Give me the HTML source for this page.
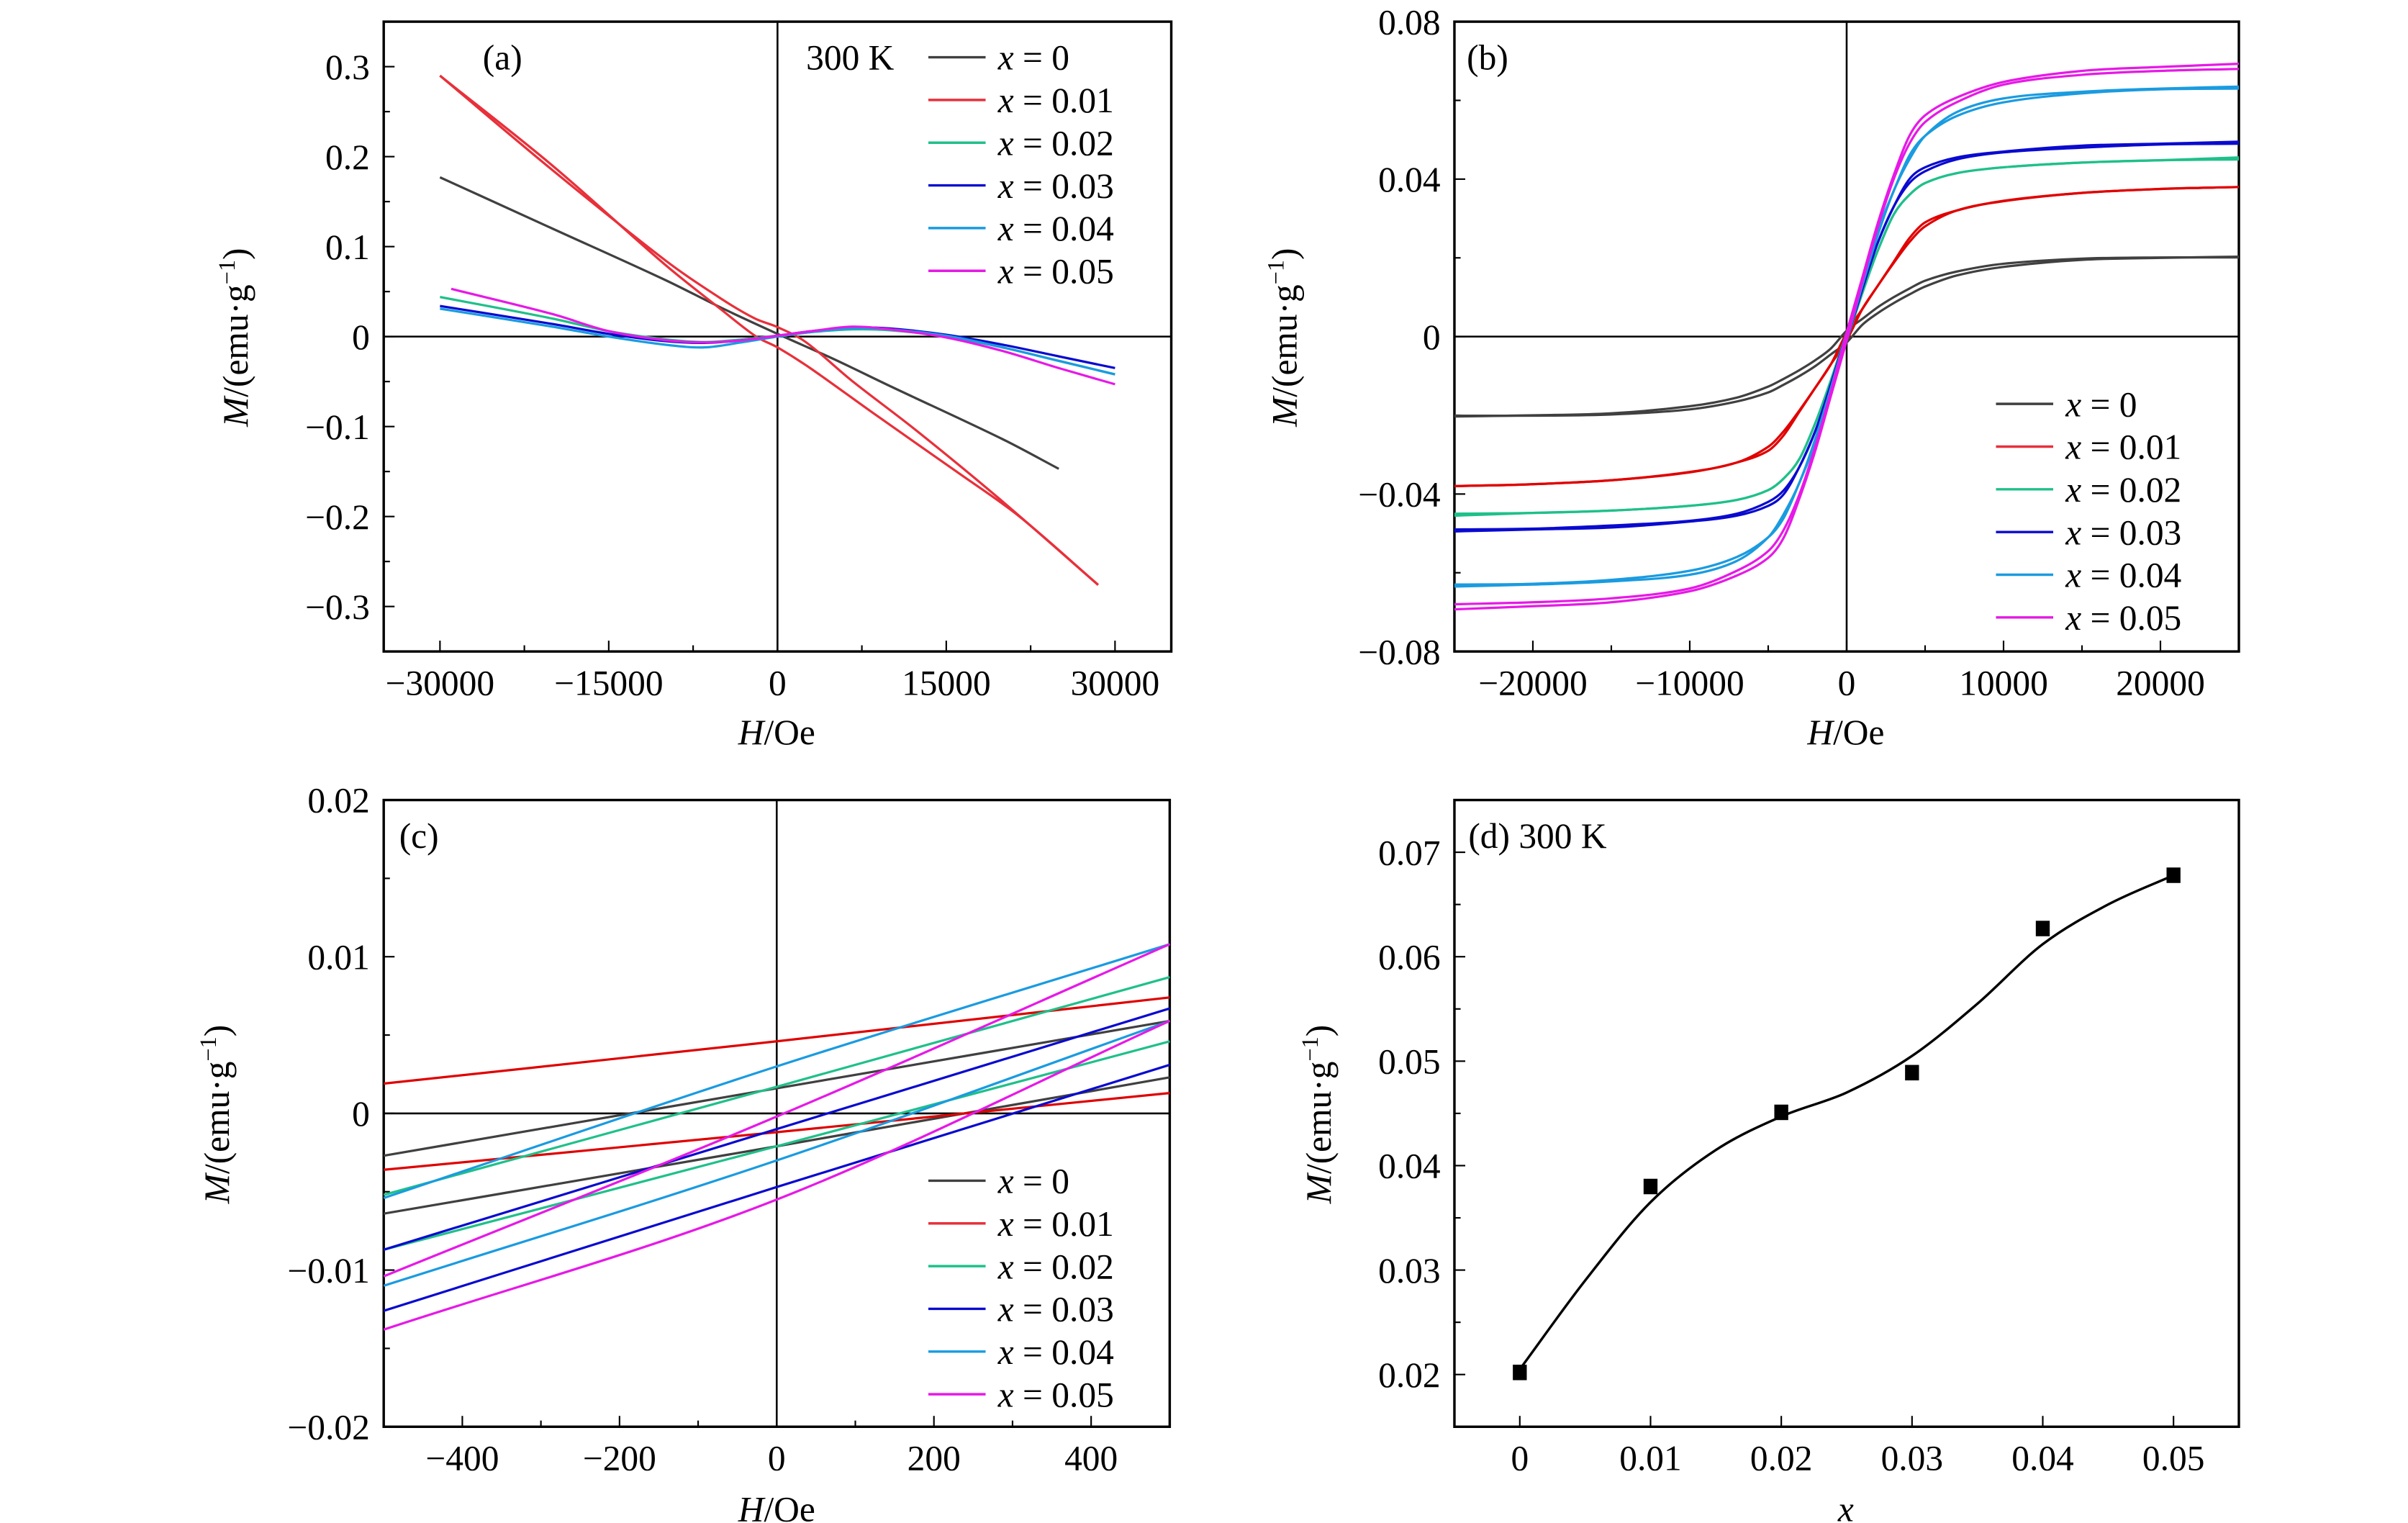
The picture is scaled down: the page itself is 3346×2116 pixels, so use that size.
<!DOCTYPE html>
<html><head><meta charset="utf-8"><style>
html,body{margin:0;padding:0;background:#fff}
svg{display:block}
text{font-family:"Liberation Serif",serif;fill:#000}
</style></head><body>
<svg id="fig" width="3346" height="2116" viewBox="0 0 1556.3 984.2" xmlns="http://www.w3.org/2000/svg">
<rect width="1556.3" height="984.2" fill="#fff"/>
</svg>
<script>
// ---------- Data ----------
const colors = ['#404040','#e8303a','#1fc08a','#0a0ad0','#1a9be0','#e619e6'];
const legendLabels = ['0','0.01','0.02','0.03','0.04','0.05'];

// Panel (a)
const aGrayH = [-30000,-20000,-10000,-5000,0,5000,10000,20000,25000];
const aGrayM = [0.177,0.12,0.063,0.032,0.003,-0.025,-0.055,-0.114,-0.147];
const aRedUpperH = [-30000,-20000,-10000,-5000,-2000,0,2500,6600,12200,19600,28500];
const aRedUpperM = [0.29,0.185,0.085,0.042,0.02,0.0105,-0.006,-0.049,-0.103,-0.179,-0.276];
const aRedLowerH = [-30000,-20000,-10000,-5000,-1900,0,2900,8500,15900,21500,28500];
const aRedLowerM = [0.29,0.19,0.08,0.03,0.0,-0.012,-0.035,-0.085,-0.150,-0.2,-0.276];
const aSmallH = [-30000,-20000,-15000,-10000,-6500,-3000,0,3000,6600,10000,15000,20000,25000,30000];
const aM002 = [0.044,0.020,0.006,-0.003,-0.006,-0.003,0.001,0.005,0.008,0.007,0.000,-0.012,-0.027,-0.042];
const aM003 = [0.034,0.014,0.003,-0.005,-0.007,-0.004,0.001,0.006,0.010,0.009,0.002,-0.009,-0.022,-0.035];
const aM004 = [0.031,0.011,0.000,-0.009,-0.012,-0.006,0.000,0.005,0.009,0.008,0.001,-0.012,-0.027,-0.042];
const aM005H = [-29000,-20000,-15000,-10000,-6400,-3000,0,3000,6600,10000,15000,20000,25000,30000];
const aM005 = [0.053,0.025,0.006,-0.004,-0.0065,-0.004,0.001,0.006,0.011,0.008,-0.001,-0.016,-0.035,-0.053];

// Panel (b): descending branch; ascending branch is its point-symmetric counterpart
const bH = [-25000,-20000,-15000,-10000,-7000,-5000,-4000,-3000,-2000,-1000,0,1000,2000,3000,4000,5000,7000,10000,15000,20000,25000];
const bM0 = [-0.0203,-0.0200,-0.0195,-0.0177,-0.0155,-0.0127,-0.0107,-0.0085,-0.006,-0.003,0.0015,0.0045,0.0075,0.0100,0.0122,0.0142,0.0165,0.0185,0.0198,0.0201,0.0201];
const bM1 = [-0.038,-0.0375,-0.0365,-0.0345,-0.032,-0.029,-0.025,-0.019,-0.013,-0.007,0.001,0.007,0.013,0.0187,0.024,0.028,0.032,0.0344,0.0365,0.0375,0.038];
const bM2 = [-0.045,-0.0448,-0.0442,-0.043,-0.0415,-0.039,-0.036,-0.031,-0.022,-0.011,0.001,0.012,0.022,0.031,0.036,0.039,0.0415,0.043,0.0442,0.0448,0.0455];
const bM3 = [-0.049,-0.0488,-0.048,-0.0468,-0.045,-0.042,-0.039,-0.033,-0.024,-0.012,0.001,0.013,0.024,0.033,0.040,0.043,0.0455,0.047,0.0485,0.049,0.0495];
const bM4 = [-0.0635,-0.063,-0.0622,-0.0605,-0.057,-0.051,-0.045,-0.037,-0.026,-0.013,0.001,0.014,0.027,0.037,0.046,0.051,0.056,0.0595,0.0618,0.0628,0.063];
const bM5 = [-0.068,-0.0675,-0.0665,-0.064,-0.0595,-0.0545,-0.049,-0.040,-0.028,-0.014,0.001,0.015,0.029,0.041,0.051,0.0562,0.0607,0.0647,0.0675,0.0685,0.0693];

// Panel (c): minor loops, each series two branches sampled at H
const cH = [-500,0,500];
const cUpper = [[-0.0027,0.0016,0.0059],[0.0019,0.0046,0.0074],[-0.0052,0.0017,0.0087],[-0.0087,-0.0010,0.0067],[-0.0054,0.0030,0.0108],[-0.0104,-0.0002,0.0108]];
const cLower = [[-0.0064,-0.0021,0.0023],[-0.0036,-0.0012,0.0013],[-0.0087,-0.0021,0.0046],[-0.0126,-0.0047,0.0031],[-0.0110,-0.0030,0.0059],[-0.0138,-0.0055,0.0059]];

// Panel (d)
const dX = [0,0.01,0.02,0.03,0.04,0.05];
const dM = [0.0202,0.0380,0.0451,0.0489,0.0627,0.0678];
const dFitX = [0,0.005,0.01,0.015,0.02,0.025,0.03,0.035,0.04,0.045,0.05];
const dFitM = [0.0205,0.0290,0.0365,0.0415,0.0447,0.0470,0.0505,0.0555,0.0612,0.0650,0.0678];

// ticks
const aXTicks = [-30000,-15000,0,15000,30000];
const aXTickLabels = ['\u221230000','\u221215000','0','15000','30000'];
const aYTicks = [0.3,0.2,0.1,0,-0.1,-0.2,-0.3];
const aYTickLabels = ['0.3','0.2','0.1','0','\u22120.1','\u22120.2','\u22120.3'];
const bXTicks = [-20000,-10000,0,10000,20000];
const bXTickLabels = ['\u221220000','\u221210000','0','10000','20000'];
const bYTicks = [0.08,0.04,0,-0.04,-0.08];
const bYTickLabels = ['0.08','0.04','0','\u22120.04','\u22120.08'];
const cXTicks = [-400,-200,0,200,400];
const cXTickLabels = ['\u2212400','\u2212200','0','200','400'];
const cYTicks = [0.02,0.01,0,-0.01,-0.02];
const cYTickLabels = ['0.02','0.01','0','\u22120.01','\u22120.02'];
const dXTicks = [0,0.01,0.02,0.03,0.04,0.05];
const dXTickLabels = ['0','0.01','0.02','0.03','0.04','0.05'];
const dYTicks = [0.07,0.06,0.05,0.04,0.03,0.02];
const dYTickLabels = ['0.07','0.06','0.05','0.04','0.03','0.02'];

// ---------- Drawing ----------
const NS = 'http://www.w3.org/2000/svg';
const svg = document.getElementById('fig');
const FS = 23;
function mk(tag, attrs, parent){
  const e = document.createElementNS(NS, tag);
  for (const k in attrs) e.setAttribute(k, attrs[k]);
  (parent||svg).appendChild(e);
  return e;
}
function scale(d0,d1,r0,r1){ return v => r0 + (v-d0)/(d1-d0)*(r1-r0); }
// Cubic Hermite with finite-difference (Catmull-Rom in x) tangents
function smoothPath(pts){
  const n = pts.length;
  const m=[];
  for (let i=0;i<n;i++){
    const a = pts[Math.max(0,i-1)], b = pts[Math.min(n-1,i+1)];
    m[i] = (b[1]-a[1])/(b[0]-a[0]);
  }
  let d = 'M'+pts[0][0].toFixed(2)+','+pts[0][1].toFixed(2);
  for (let i=0;i<n-1;i++){
    const h=(pts[i+1][0]-pts[i][0])/3;
    d += ' C'+(pts[i][0]+h).toFixed(2)+','+(pts[i][1]+m[i]*h).toFixed(2)+' '+(pts[i+1][0]-h).toFixed(2)+','+(pts[i+1][1]-m[i+1]*h).toFixed(2)+' '+pts[i+1][0].toFixed(2)+','+pts[i+1][1].toFixed(2);
  }
  return d;
}
function panel(id, box, xd, yd, xt, xtl, yt, ytl, xminor, yminor, zero){
  const g = mk('g', {});
  
  
  const sx = scale(xd[0],xd[1],box.x0,box.x1), sy = scale(yd[0],yd[1],box.y1,box.y0);
  if (zero){
    const zx = mk('line',{x1:sx(0),x2:sx(0),y1:box.y0,y2:box.y1,stroke:'#000','stroke-width':1.2},g);
    
    
    const zy = mk('line',{x1:box.x0,x2:box.x1,y1:sy(0),y2:sy(0),stroke:'#000','stroke-width':1.2},g);
    
    
  }
  const xg = mk('g',{},g);
  
  
  xt.forEach((v,i)=>{
    mk('line',{x1:sx(v),x2:sx(v),y1:box.y1,y2:box.y1-7,stroke:'#000','stroke-width':1},xg);
    const t = mk('text',{x:sx(v),y:box.y1+28,'font-size':FS,'text-anchor':'middle'},xg);
    t.textContent = xtl[i];
    
    
  });
  xminor.forEach(v=>{ mk('line',{x1:sx(v),x2:sx(v),y1:box.y1,y2:box.y1-4,stroke:'#000','stroke-width':1},xg); });
  const yg = mk('g',{},g);
  
  
  yt.forEach((v,i)=>{
    mk('line',{x1:box.x0,x2:box.x0+7,y1:sy(v),y2:sy(v),stroke:'#000','stroke-width':1},yg);
    const t = mk('text',{x:box.x0-9,y:sy(v)+8,'font-size':FS,'text-anchor':'end'},yg);
    t.textContent = ytl[i];
    
    
  });
  yminor.forEach(v=>{ mk('line',{x1:box.x0,x2:box.x0+4,y1:sy(v),y2:sy(v),stroke:'#000','stroke-width':1},yg); });
  const fr = mk('rect',{x:box.x0,y:box.y0,width:box.x1-box.x0,height:box.y1-box.y0,fill:'none',stroke:'#000','stroke-width':1.6},g);
  
  
  return {g,sx,sy,box};
}
function curve(p, xs, ys, color, name, w){
  const pts = xs.map((x,i)=>[p.sx(x), p.sy(ys[i])]);
  const e = mk('path',{d:smoothPath(pts),fill:'none',stroke:color,'stroke-width':w||1.5,'stroke-linejoin':'round'},p.g);
  
  
  return e;
}
function legend(p, x, y0, dy){
  const lg = mk('g',{},p.g);
  
  
  legendLabels.forEach((l,i)=>{
    const y = y0 + i*dy;
    const row = mk('g',{},lg);
    
    
    mk('line',{x1:x,x2:x+37,y1:y,y2:y,stroke:colors[i],'stroke-width':1.6},row);
    const t = mk('text',{x:x+45,y:y+8,'font-size':FS},row);
    t.innerHTML = '<tspan font-style="italic">x</tspan> = '+l;
  });
}
function label(x,y,html,name,rot){
  const t = mk('text',{x:x,y:y,'font-size':FS,'text-anchor':'middle'});
  if (rot) t.setAttribute('transform','rotate(-90 '+x+' '+y+')');
  t.innerHTML = html;
  
  
}
const mLabel = '<tspan font-style="italic">M</tspan>/(emu\u00b7g<tspan baseline-shift="super" font-size="15">\u22121</tspan>)';
const hLabel = '<tspan font-style="italic">H</tspan>/Oe';

// Panel a
const pa = panel('a',{x0:248,x1:757,y0:14,y1:421},[-35000,35000],[-0.35,0.35],aXTicks,aXTickLabels,aYTicks,aYTickLabels,[-22500,-7500,7500,22500],[0.25,0.15,0.05,-0.05,-0.15,-0.25],true);
curve(pa,aGrayH,aGrayM,colors[0],'series-x0');
curve(pa,aRedUpperH,aRedUpperM,colors[1],'series-x0.01-upper');
curve(pa,aRedLowerH,aRedLowerM,colors[1],'series-x0.01-lower');
curve(pa,aSmallH,aM002,colors[2],'series-x0.02');
curve(pa,aSmallH,aM003,colors[3],'series-x0.03');
curve(pa,aSmallH,aM004,colors[4],'series-x0.04');
curve(pa,aM005H,aM005,colors[5],'series-x0.05');
legend(pa,600,37,27.6);
let t = mk('text',{x:521,y:45,'font-size':FS},pa.g); t.textContent='300 K';
 
t = mk('text',{x:312,y:45,'font-size':FS},pa.g); t.textContent='(a)';
 
label(160,218,mLabel,'y-axis-title-a',true);
label(502,481,hLabel,'x-axis-title-a');

// Panel b
const pb = panel('b',{x0:940,x1:1447,y0:14,y1:421},[-25000,25000],[-0.08,0.08],bXTicks,bXTickLabels,bYTicks,bYTickLabels,[-15000,-5000,5000,15000],[0.06,0.02,-0.02,-0.06],true);
const bSeries=[bM0,bM1,bM2,bM3,bM4,bM5];
bSeries.forEach((m,i)=>{
  const col = i===1?'#e00000':colors[i];
  curve(pb,bH,m,col,'series-x'+legendLabels[i]+'-descending');
  const hAsc = bH.map(h=>-h).reverse(), mAsc = m.map(v=>-v).reverse();
  curve(pb,hAsc,mAsc,col,'series-x'+legendLabels[i]+'-ascending');
});
legend(pb,1290,261,27.6);
t = mk('text',{x:948,y:45,'font-size':FS},pb.g); t.textContent='(b)';
 
label(838,218,mLabel,'y-axis-title-b',true);
label(1193,481,hLabel,'x-axis-title-b');

// Panel c
const pc = panel('c',{x0:248,x1:756,y0:517,y1:922},[-500,500],[-0.02,0.02],cXTicks,cXTickLabels,cYTicks,cYTickLabels,[-300,-100,100,300],[0.015,0.005,-0.005,-0.015],true);
cUpper.forEach((m,i)=>{
  const col = i===1?'#e00000':colors[i];
  curve(pc,cH,m,col,'series-x'+legendLabels[i]+'-upper');
  curve(pc,cH,cLower[i],col,'series-x'+legendLabels[i]+'-lower');
});
legend(pc,600,763,27.6);
t = mk('text',{x:258,y:548,'font-size':FS},pc.g); t.textContent='(c)';
 
label(148,720,mLabel,'y-axis-title-c',true);
label(502,983,hLabel,'x-axis-title-c');

// Panel d
const pd = panel('d',{x0:940,x1:1447,y0:517,y1:922},[-0.005,0.055],[0.015,0.075],dXTicks,dXTickLabels,dYTicks,dYTickLabels,[],[0.065,0.055,0.045,0.035,0.025],false);
curve(pd,dFitX,dFitM,'#000','fit-curve',1.6);
dX.forEach((x,i)=>{
  const r = mk('rect',{x:pd.sx(x)-4.5,y:pd.sy(dM[i])-5,width:9,height:10,fill:'#000'},pd.g);
  
  
});
t = mk('text',{x:949,y:548,'font-size':FS},pd.g); t.textContent='(d) 300 K';
 
label(860,720,mLabel,'y-axis-title-d',true);
label(1193,983,'<tspan font-style="italic">x</tspan>','x-axis-title-d');
</script>
</body></html>
